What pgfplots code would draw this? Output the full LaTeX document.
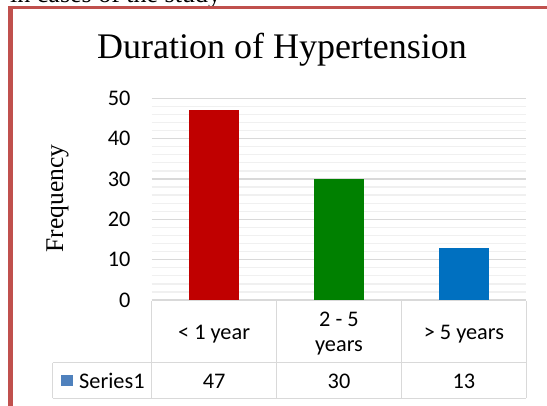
\documentclass[border=0pt]{standalone}
\usepackage{fontspec}
\setmainfont{Liberation Serif}
\newfontfamily\calibri{Carlito}
\usepackage{pgfplots}
\pgfplotsset{compat=1.18}
\definecolor{frame}{HTML}{C0504D}
\definecolor{gridmaj}{HTML}{D9D9D9}
\definecolor{gridmin}{HTML}{F0F0F0}
\definecolor{tbl}{HTML}{D9D9D9}
\definecolor{cred}{HTML}{C00000}
\definecolor{cgreen}{HTML}{008000}
\definecolor{cblue}{HTML}{0070C0}
\definecolor{legblue}{HTML}{4F81BD}
\begin{document}
\begin{tikzpicture}[x=1pt,y=1pt]
\useasboundingbox (0,0) rectangle (547,406);
\begin{scope}
\clip (0,0) rectangle (547,406);
\node[anchor=base west, inner sep=0pt, font=\fontsize{26}{30}\selectfont] at (10,403) {in cases of the study};
\end{scope}
% frame
\draw[frame, line width=3pt] (8.5,398.5) -- (547,398.5);
\draw[frame, line width=4.4pt] (10.5,400) -- (10.5,0);
% title
\node[anchor=base, inner sep=0pt, font=\fontsize{36}{40}\selectfont] at (282,347.5) {Duration of Hypertension};
% y label
\node[rotate=90, inner sep=0pt, font=\fontsize{25.5}{30}\selectfont] at (57.5,207.5) {Frequency};
\begin{axis}[
  at={(151.7pt,106pt)}, anchor=south west,
  scale only axis, width=374.5pt, height=201.7pt,
  xmin=-0.5, xmax=2.5, ymin=0, ymax=50,
  ytick={0,10,20,30,40,50}, minor y tick num=4,
  xtick=\empty,
  ymajorgrids, yminorgrids,
  major grid style={draw=gridmaj, line width=1.3pt},
  minor grid style={draw=gridmin, line width=1.3pt},
  axis line style={draw=none},
  major tick length=0pt, minor tick length=0pt,
  tick style={draw=none},
  /pgf/number format/assume math mode=true,
  yticklabel style={font=\calibri\fontsize{22.3}{26}\selectfont, inner sep=0pt, xshift=-21pt},
  ybar, bar width=49.9pt, bar shift=0pt,
  clip=false,
]
\addplot[fill=cred, draw=none] coordinates {(0,47)};
\addplot[fill=cgreen, draw=none] coordinates {(1,30)};
\addplot[fill=cblue, draw=none] coordinates {(2,13)};
\end{axis}
% data table
\begin{scope}[draw=tbl, line width=1.3pt]
\draw (151.7,105.2) -- (526.3,105.2);
\draw (52.7,43.3) -- (526.3,43.3);
\draw (52.7,7.7) -- (526.3,7.7);
\draw (52.7,43.3) -- (52.7,7.7);
\draw (151.7,105.2) -- (151.7,7.7);
\draw (276.5,105.2) -- (276.5,7.7);
\draw (401.4,105.2) -- (401.4,7.7);
\draw (526.3,105.2) -- (526.3,7.7);
\end{scope}
\begin{scope}[every node/.style={anchor=base, inner sep=0pt, font=\calibri\fontsize{22.3}{26}\selectfont}]
\node at (214.1,66.7) {< 1 year};
\node at (339.0,79.3) {2 - 5};
\node at (339.0,54.3) {years};
\node at (463.9,66.7) {> 5 years};
\node at (214.1,17.7) {47};
\node at (339.0,17.7) {30};
\node at (463.9,17.7) {13};
\node[anchor=base west] at (79,17.7) {Series1};
\end{scope}
\fill[legblue] (61,31) rectangle (73.3,20);
\end{tikzpicture}
\end{document}
